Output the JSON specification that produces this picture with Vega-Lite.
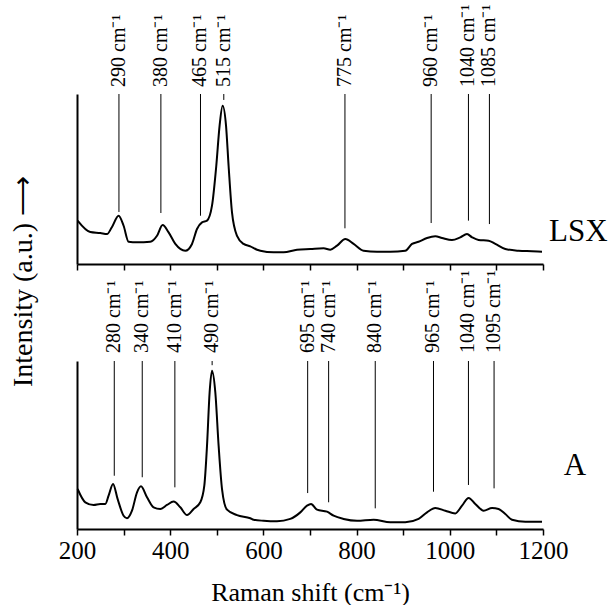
{
  "$schema": "https://vega.github.io/schema/vega-lite/v6.json",
  "autosize": {"type": "pad"},
  "padding": {"left": 9, "top": 4, "right": 0, "bottom": 0},
  "background": "white",
  "bounds": "flush",
  "spacing": 97,
  "config": {
    "view": {"stroke": null},
    "font": "Liberation Serif",
    "axis": {"grid": false, "domainColor": "black", "domainWidth": 2, "tickColor": "black", "tickWidth": 1.5, "labelColor": "black", "titleColor": "black", "labelFont": "Liberation Serif", "titleFont": "Liberation Serif", "titleFontWeight": "normal", "labelFlush": false, "labelOverlap": false}
  },
  "datasets": {
    "lsx": [
      {"shift": 201.3, "intensity": 25.5}, {"shift": 228.5, "intensity": 18.8}, {"shift": 250, "intensity": 18.2},
      {"shift": 264.4, "intensity": 17.6}, {"shift": 275.1, "intensity": 21.8}, {"shift": 289.3, "intensity": 28.4},
      {"shift": 300, "intensity": 22.5}, {"shift": 310.7, "intensity": 13.1}, {"shift": 328.8, "intensity": 12.8},
      {"shift": 357.3, "intensity": 13.1}, {"shift": 371.7, "intensity": 16.6}, {"shift": 383.7, "intensity": 22.9},
      {"shift": 396.6, "intensity": 18.6}, {"shift": 411, "intensity": 11.8}, {"shift": 432.4, "intensity": 7.8},
      {"shift": 446.8, "intensity": 11.8}, {"shift": 457.5, "intensity": 20.6}, {"shift": 468.3, "intensity": 24.5},
      {"shift": 479, "intensity": 25.5}, {"shift": 489.7, "intensity": 34.3}, {"shift": 498.9, "intensity": 57.8},
      {"shift": 506, "intensity": 81.4}, {"shift": 512.5, "intensity": 93.1}, {"shift": 519.8, "intensity": 81.4},
      {"shift": 525.3, "intensity": 57.8}, {"shift": 532.6, "intensity": 30.4}, {"shift": 543.4, "intensity": 16.6},
      {"shift": 557.5, "intensity": 11.8}, {"shift": 571.9, "intensity": 10.4}, {"shift": 586.3, "intensity": 8.4},
      {"shift": 593.4, "intensity": 7.8}, {"shift": 621.9, "intensity": 6.9}, {"shift": 643.4, "intensity": 6.9},
      {"shift": 672.1, "intensity": 8.4}, {"shift": 700.7, "intensity": 8.8}, {"shift": 729.2, "intensity": 9.2},
      {"shift": 743.6, "intensity": 8.4}, {"shift": 758, "intensity": 10.8}, {"shift": 775.8, "intensity": 14.7},
      {"shift": 793.6, "intensity": 11.8}, {"shift": 815, "intensity": 7.8}, {"shift": 843.8, "intensity": 7.2},
      {"shift": 872.3, "intensity": 7.2}, {"shift": 904.5, "intensity": 7.8}, {"shift": 918.9, "intensity": 11.8},
      {"shift": 933, "intensity": 13.1}, {"shift": 951.1, "intensity": 15.3}, {"shift": 968.9, "intensity": 16.3},
      {"shift": 983.3, "intensity": 15.3}, {"shift": 1004.7, "intensity": 14.1}, {"shift": 1022.6, "intensity": 15.7},
      {"shift": 1036.9, "intensity": 17.6}, {"shift": 1047.7, "intensity": 15.7}, {"shift": 1061.8, "intensity": 14.1},
      {"shift": 1083.3, "intensity": 13.7}, {"shift": 1097.7, "intensity": 11.8}, {"shift": 1119.1, "intensity": 8.8},
      {"shift": 1147.7, "intensity": 7.8}, {"shift": 1176.4, "intensity": 7.5}, {"shift": 1197.9, "intensity": 7.2}
    ],
    "a": [
      {"shift": 201.3, "intensity": 23.8}, {"shift": 217.8, "intensity": 15.9}, {"shift": 235.6, "intensity": 14.3},
      {"shift": 250, "intensity": 14.9}, {"shift": 260.7, "intensity": 14.9}, {"shift": 267.8, "intensity": 19.8},
      {"shift": 277.3, "intensity": 26.8}, {"shift": 287.1, "intensity": 17.9}, {"shift": 300, "intensity": 7.9},
      {"shift": 307.3, "intensity": 6.4}, {"shift": 318, "intensity": 10.9}, {"shift": 328.8, "intensity": 21.8},
      {"shift": 337.3, "intensity": 25.4}, {"shift": 350.2, "intensity": 18.9}, {"shift": 364.4, "intensity": 12.9},
      {"shift": 378.8, "intensity": 11.9}, {"shift": 393.1, "intensity": 14.3}, {"shift": 407.3, "intensity": 16.3},
      {"shift": 421.7, "intensity": 12.9}, {"shift": 436.1, "intensity": 8.3}, {"shift": 450.2, "intensity": 11.9},
      {"shift": 464.6, "intensity": 15.9}, {"shift": 473.2, "intensity": 25.8}, {"shift": 479, "intensity": 49.6},
      {"shift": 484.6, "intensity": 81.4}, {"shift": 489.7, "intensity": 94.2}, {"shift": 496.8, "intensity": 81.4},
      {"shift": 503.9, "intensity": 49.6}, {"shift": 511.2, "intensity": 23.8}, {"shift": 521.9, "intensity": 11.5},
      {"shift": 543.4, "intensity": 8.3}, {"shift": 571.9, "intensity": 6.4}, {"shift": 579, "intensity": 5.5},
      {"shift": 600.4, "intensity": 4.9}, {"shift": 629.2, "intensity": 4.6}, {"shift": 657.7, "intensity": 6.0},
      {"shift": 679.2, "intensity": 9.9}, {"shift": 693.6, "intensity": 13.9}, {"shift": 702.2, "intensity": 14.9},
      {"shift": 715, "intensity": 11.5}, {"shift": 736.5, "intensity": 10.3}, {"shift": 750.7, "intensity": 7.9},
      {"shift": 772.1, "intensity": 6.0}, {"shift": 800.9, "intensity": 4.9}, {"shift": 836.5, "intensity": 5.5},
      {"shift": 872.3, "intensity": 4.0}, {"shift": 904.5, "intensity": 4.0}, {"shift": 933, "intensity": 6.0},
      {"shift": 951.1, "intensity": 9.9}, {"shift": 968.9, "intensity": 12.5}, {"shift": 990.4, "intensity": 10.9},
      {"shift": 1011.8, "intensity": 9.3}, {"shift": 1026.2, "intensity": 13.9}, {"shift": 1040.4, "intensity": 18.5},
      {"shift": 1054.7, "intensity": 14.9}, {"shift": 1072.6, "intensity": 10.9}, {"shift": 1090.6, "intensity": 12.5},
      {"shift": 1104.7, "intensity": 11.9}, {"shift": 1119.1, "intensity": 8.9}, {"shift": 1133.5, "intensity": 5.5},
      {"shift": 1162.1, "intensity": 4.3}, {"shift": 1197.9, "intensity": 4.3}
    ],
    "lsxPeaks": [
      {"shift": 290, "end": 30.6, "label": "290 cm⁻¹"},
      {"shift": 380, "end": 30.0, "label": "380 cm⁻¹"},
      {"shift": 465, "end": 28.4, "label": "465 cm⁻¹"},
      {"shift": 515, "end": 96.5, "label": "515 cm⁻¹"},
      {"shift": 775, "end": 21.0, "label": "775 cm⁻¹"},
      {"shift": 960, "end": 24.1, "label": "960 cm⁻¹"},
      {"shift": 1040, "end": 25.5, "label": "1040 cm⁻¹"},
      {"shift": 1085, "end": 23.5, "label": "1085 cm⁻¹"}
    ],
    "aPeaks": [
      {"shift": 280, "end": 31.7, "label": "280 cm⁻¹"},
      {"shift": 340, "end": 30.8, "label": "340 cm⁻¹"},
      {"shift": 410, "end": 24.8, "label": "410 cm⁻¹"},
      {"shift": 490, "end": 97.5, "label": "490 cm⁻¹"},
      {"shift": 695, "end": 21.4, "label": "695 cm⁻¹"},
      {"shift": 740, "end": 15.9, "label": "740 cm⁻¹"},
      {"shift": 840, "end": 12.3, "label": "840 cm⁻¹"},
      {"shift": 965, "end": 22.2, "label": "965 cm⁻¹"},
      {"shift": 1040, "end": 26.2, "label": "1040 cm⁻¹"},
      {"shift": 1095, "end": 24.2, "label": "1095 cm⁻¹"}
    ]
  },
  "vconcat": [
    {
      "width": 466,
      "height": 170,
      "layer": [
        {
          "data": {"name": "lsx"},
          "mark": {"type": "line", "color": "black", "strokeWidth": 2, "interpolate": "monotone"},
          "encoding": {
            "x": {"field": "shift", "type": "quantitative", "scale": {"domain": [200, 1200], "nice": false},
                  "axis": {"values": [200, 300, 400, 500, 600, 700, 800, 900, 1000, 1100, 1200], "labels": false, "title": null, "tickSize": 6}},
            "y": {"field": "intensity", "type": "quantitative", "scale": {"domain": [0, 100], "nice": false},
                  "axis": {"ticks": false, "labels": false, "title": "Intensity (a.u.) ⟶", "titleFontSize": 28, "titleX": -54, "titleY": 187, "titleAngle": 270, "titleBaseline": "middle", "titleAlign": "center"}}
          }
        },
        {
          "data": {"name": "lsxPeaks"},
          "mark": {"type": "rule", "color": "black", "strokeWidth": 1},
          "encoding": {
            "x": {"field": "shift", "type": "quantitative"},
            "y": {"field": "end", "type": "quantitative"},
            "y2": {"datum": 100}
          }
        },
        {
          "data": {"name": "lsxPeaks"},
          "mark": {"type": "text", "angle": 270, "align": "left", "baseline": "middle", "dx": 7, "fontSize": 20, "color": "black"},
          "encoding": {
            "x": {"field": "shift", "type": "quantitative"},
            "y": {"datum": 100, "type": "quantitative"},
            "text": {"field": "label", "type": "nominal"}
          }
        },
        {
          "data": {"values": [{"name": "LSX"}]},
          "mark": {"type": "text", "align": "left", "baseline": "middle", "dx": 6, "fontSize": 31, "color": "black"},
          "encoding": {
            "x": {"datum": 1200, "type": "quantitative"},
            "y": {"datum": 19, "type": "quantitative"},
            "text": {"field": "name", "type": "nominal"}
          }
        }
      ]
    },
    {
      "width": 466,
      "height": 168,
      "layer": [
        {
          "data": {"name": "a"},
          "mark": {"type": "line", "color": "black", "strokeWidth": 2, "interpolate": "monotone"},
          "encoding": {
            "x": {"field": "shift", "type": "quantitative", "scale": {"domain": [200, 1200], "nice": false},
                  "axis": {"values": [200, 300, 400, 500, 600, 700, 800, 900, 1000, 1100, 1200], "format": "d", "labelExpr": "datum.value % 200 == 0 ? datum.label : ''", "labelFontSize": 25, "labelPadding": 3, "title": "Raman shift (cm⁻¹)", "titleFontSize": 26, "titlePadding": 16, "tickSize": 6}},
            "y": {"field": "intensity", "type": "quantitative", "scale": {"domain": [0, 100], "nice": false},
                  "axis": {"ticks": false, "labels": false, "title": null}}
          }
        },
        {
          "data": {"name": "aPeaks"},
          "mark": {"type": "rule", "color": "black", "strokeWidth": 1},
          "encoding": {
            "x": {"field": "shift", "type": "quantitative"},
            "y": {"field": "end", "type": "quantitative"},
            "y2": {"datum": 100}
          }
        },
        {
          "data": {"name": "aPeaks"},
          "mark": {"type": "text", "angle": 270, "align": "left", "baseline": "middle", "dx": 8, "fontSize": 20, "color": "black"},
          "encoding": {
            "x": {"field": "shift", "type": "quantitative"},
            "y": {"datum": 100, "type": "quantitative"},
            "text": {"field": "label", "type": "nominal"}
          }
        },
        {
          "data": {"values": [{"name": "A"}]},
          "mark": {"type": "text", "align": "center", "baseline": "middle", "dx": 32, "fontSize": 31, "color": "black"},
          "encoding": {
            "x": {"datum": 1200, "type": "quantitative"},
            "y": {"datum": 37.5, "type": "quantitative"},
            "text": {"field": "name", "type": "nominal"}
          }
        }
      ]
    }
  ]
}
